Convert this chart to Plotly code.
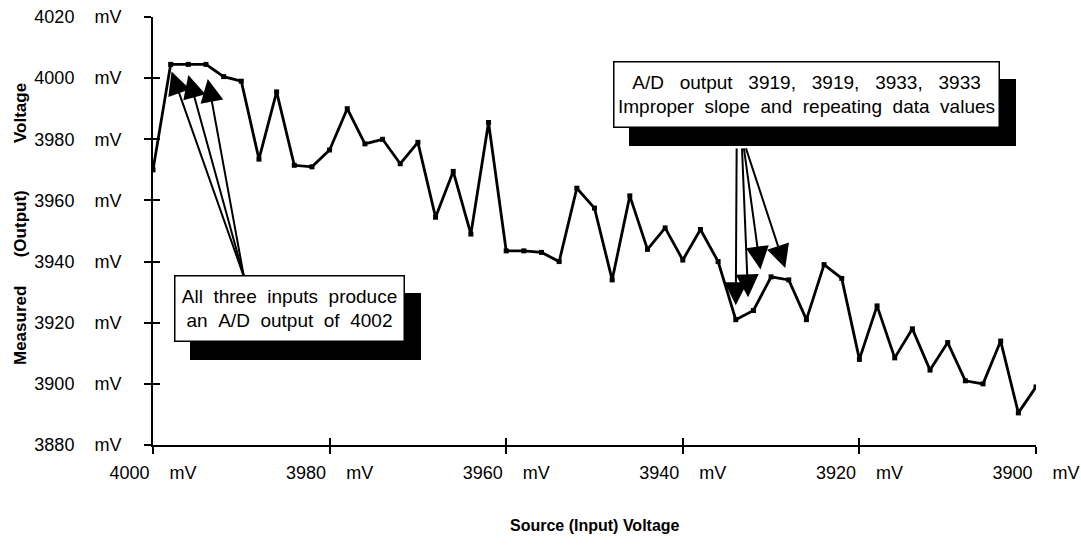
import plotly.graph_objects as go

# ---- data ----
source_mv = [4000, 3998, 3996, 3994, 3992, 3990, 3988, 3986, 3984, 3982,
             3980, 3978, 3976, 3974, 3972, 3970, 3968, 3966, 3964, 3962,
             3960, 3958, 3956, 3954, 3952, 3950, 3948, 3946, 3944, 3942,
             3940, 3938, 3936, 3934, 3932, 3930, 3928, 3926, 3924, 3922,
             3920, 3918, 3916, 3914, 3912, 3910, 3908, 3906, 3904, 3902,
             3900]
measured_mv = [3970, 4004.5, 4004.5, 4004.5, 4000.5, 3999, 3973.5, 3995.5, 3971.5, 3971,
               3976.5, 3990, 3978.5, 3980, 3972, 3979, 3954.5, 3969.5, 3949, 3985.5,
               3943.5, 3943.5, 3943, 3940, 3964, 3957.5, 3934, 3961.5, 3944, 3951,
               3940.5, 3950.5, 3940, 3921, 3924, 3935, 3934, 3921, 3939, 3934.5,
               3908, 3925.5, 3908.5, 3918, 3904.5, 3913.5, 3901, 3900, 3914, 3890.5,
               3899]

x_ticks = [4000, 3980, 3960, 3940, 3920, 3900]
y_ticks = [3880, 3900, 3920, 3940, 3960, 3980, 4000, 4020]
NB = "\u00a0"
x_ticktext = [f"{v}{NB*4}mV" for v in x_ticks]
y_ticktext = [f"{v}{NB*4}mV" for v in y_ticks]

S2 = NB * 2
S3 = NB * 3
note1_lines = ["All" + S2 + "three" + S2 + "inputs" + S2 + "produce",
               "an" + S2 + "A/D" + S2 + "output" + S2 + "of" + S2 + "4002"]
note2_lines = ["A/D" + S3 + "output" + S3 + "3919," + S3 + "3919," + S3 + "3933," + S3 + "3933",
               "Improper" + S2 + "slope" + S2 + "and" + S2 + "repeating" + S2 + "data" + S2 + "values"]

FONT = "Liberation Sans, Arial, Helvetica, sans-serif"

fig = go.Figure()
fig.add_trace(go.Scatter(
    x=source_mv, y=measured_mv, mode="lines+markers",
    line=dict(color="black", width=2.8),
    marker=dict(symbol="square", size=5, color="black"),
    showlegend=False, hoverinfo="skip"))

X_RANGE = [4000, 3900]
Y_RANGE = [3880, 4020]

fig.update_layout(
    width=1081, height=556,
    margin=dict(l=153, r=45, t=17, b=111, pad=0),
    paper_bgcolor="white", plot_bgcolor="white",
    font=dict(family=FONT, size=17, color="black"),
    showlegend=False,
    xaxis=dict(range=X_RANGE, tickvals=x_ticks, ticktext=x_ticktext, automargin=False,
               showgrid=False, zeroline=False, showline=True, linecolor="black", linewidth=2,
               ticks="outside", ticklen=7, tickwidth=2, tickcolor="black",
               ticklabelstandoff=3, tickfont=dict(size=18)),
    yaxis=dict(range=Y_RANGE, tickvals=y_ticks, ticktext=y_ticktext, automargin=False,
               showgrid=False, zeroline=False, showline=True, linecolor="black", linewidth=2,
               ticks="outside", ticklen=7, tickwidth=2, tickcolor="black",
               ticklabelstandoff=19, tickfont=dict(size=18)),
    xaxis2=dict(range=X_RANGE, overlaying="x", side="bottom", anchor="y", tickvals=x_ticks,
                automargin=False, showticklabels=False, ticks="inside", ticklen=7, tickwidth=2,
                tickcolor="black", showgrid=False, zeroline=False, showline=False),
    yaxis2=dict(range=Y_RANGE, overlaying="y", side="left", anchor="x", tickvals=y_ticks,
                automargin=False, showticklabels=False, ticks="inside", ticklen=7, tickwidth=2,
                tickcolor="black", showgrid=False, zeroline=False, showline=False),
)

# empty trace so the overlay (inner tick) axes are drawn
fig.add_trace(go.Scatter(x=[], y=[], xaxis="x2", yaxis="y2", showlegend=False))

ann = []
# axis titles
ann.append(dict(text="Source (Input) Voltage", xref="paper", yref="paper", x=0.5, y=0,
                yshift=-80, xanchor="center", yanchor="middle", showarrow=False,
                font=dict(size=16, family=FONT, color="black", weight="bold")))
ann.append(dict(text="Measured" + NB*6 + "(Output)" + NB*10 + "Voltage", xref="paper", yref="paper",
                x=0, y=0.5, xshift=-133, yshift=7, textangle=-90, xanchor="center", yanchor="middle",
                showarrow=False, font=dict(size=17, family=FONT, color="black", weight="bold")))

# arrows for note 1
for tx, ty in [(3997.9, 4002.2), (3996.0, 4001.0), (3993.8, 3999.7)]:
    ann.append(dict(text="", x=tx, y=ty, ax=3989.7, ay=3935, xref="x", yref="y", axref="x", ayref="y",
                    showarrow=True, arrowhead=2, arrowsize=2.3, arrowwidth=2, arrowcolor="black", standoff=0))
# arrows for note 2
for tx, ty, sx in [(3934.0, 3925.7, 3933.9), (3932.6, 3928.3, 3933.3), (3931.2, 3937.4, 3933.1), (3928.4, 3937.9, 3932.9)]:
    ann.append(dict(text="", x=tx, y=ty, ax=sx, ay=3977.5, xref="x", yref="y", axref="x", ayref="y",
                    showarrow=True, arrowhead=2, arrowsize=2.3, arrowwidth=2, arrowcolor="black", standoff=0))

def boxed(lines, cx, cy, w, h):
    txt = "<br>".join(lines)
    shadow = dict(text=NB, x=cx, y=cy, xref="x", yref="y", xanchor="center", yanchor="middle",
                  xshift=16, yshift=-18, showarrow=False, width=w, height=h, bgcolor="black",
                  bordercolor="black", borderwidth=1.5, borderpad=0, font=dict(size=19, color="black"))
    box = dict(text=txt, x=cx, y=cy, xref="x", yref="y", xanchor="center", yanchor="middle",
               showarrow=False, width=w, height=h, bgcolor="white", bordercolor="black",
               borderwidth=1.5, borderpad=0, align="center", font=dict(size=19, color="black"))
    return [shadow, box]

ann += boxed(note1_lines, 3984.5, 3924.5, 228, 64)
ann += boxed(note2_lines, 3926.0, 3994.8, 384, 64)

fig.update_layout(annotations=ann)
fig.write_html("out.html", config={"displayModeBar": False},
               post_script="document.body.style.margin='0px';")
